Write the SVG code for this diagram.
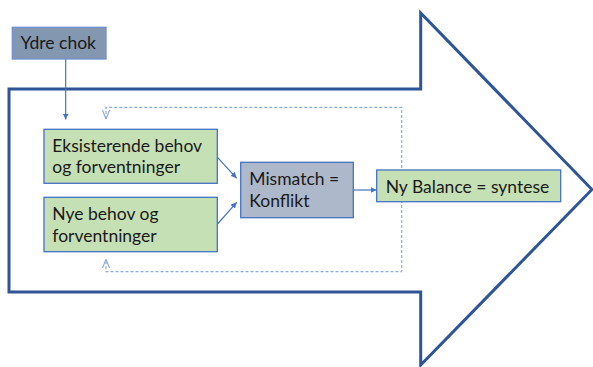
<svg xmlns="http://www.w3.org/2000/svg" width="593" height="367" viewBox="0 0 593 367">
<style>
.t{font-family:Lato,"Open Sans","Liberation Sans",sans-serif;font-size:17.5px;fill:#1a1a1a}
.g{fill:#C5E0B4;stroke:#4472C4;stroke-width:1.3}
.c{stroke:#4472C4;stroke-width:1.2;fill:none}
.d{stroke:#8FAADC;stroke-width:1.2;fill:none;stroke-dasharray:3 2}
</style>
<defs>
<marker id="ah" viewBox="0 0 10 10" refX="10" refY="5" markerWidth="6" markerHeight="6" markerUnits="userSpaceOnUse" orient="auto">
<path d="M0,0 L10,5 L0,10 z" fill="#4472C4"/>
</marker>
<marker id="oh" viewBox="0 0 10 10" refX="10" refY="5" markerWidth="9" markerHeight="9" markerUnits="userSpaceOnUse" orient="auto">
<path d="M0,1 L10,5 L0,9" fill="none" stroke="#8FAADC" stroke-width="1.3"/>
</marker>
</defs>
<g id="bigarrow">
<path d="M9,89 L420.7,89 L420.7,13 L592,189.5 L420.7,365 L420.7,292 L9,292 Z" fill="#fff" stroke="#2F5597" stroke-width="3"/>
</g>
<g id="connectors">
<path class="d" d="M106,119 L106,107.3 L401.7,107.3 L401.7,271.7 L106,271.7 L106,259.5"/>
<line x1="106" y1="108" x2="106" y2="119" stroke="none" marker-end="url(#oh)"/>
<line x1="106" y1="271" x2="106" y2="259.3" stroke="none" marker-end="url(#oh)"/>
<line class="c" x1="65.7" y1="59" x2="65.7" y2="119.5" marker-end="url(#ah)"/>
<line class="c" x1="217.5" y1="157.3" x2="236.7" y2="178.3" marker-end="url(#ah)"/>
<line class="c" x1="217.5" y1="224" x2="236.7" y2="202.3" marker-end="url(#ah)"/>
<line class="c" x1="353.5" y1="190" x2="376.5" y2="190" marker-end="url(#ah)"/>
</g>
<g id="ydre">
<rect x="12.3" y="27.3" width="93.7" height="31.7" fill="#8497B0" stroke="#6F8FD0" stroke-width="1.3"/>
<text class="t" x="20.5" y="49">Ydre chok</text>
</g>
<g id="eksisterende">
<rect class="g" x="44" y="129.3" width="173.3" height="54"/>
<text class="t" x="52.3" y="151.7">Eksisterende behov</text>
<text class="t" x="52.3" y="173">og forventninger</text>
</g>
<g id="nye">
<rect class="g" x="44" y="197.3" width="173.3" height="54.4"/>
<text class="t" x="52.3" y="220">Nye behov og</text>
<text class="t" x="52.3" y="241.7">forventninger</text>
</g>
<g id="mismatch">
<rect x="240.7" y="162.3" width="112.6" height="55.4" fill="#ADB9CA" stroke="#4472C4" stroke-width="1.3"/>
<text class="t" x="249.3" y="185">Mismatch =</text>
<text class="t" x="249.3" y="206.7">Konflikt</text>
</g>
<g id="nybalance">
<rect class="g" x="376.7" y="170" width="184" height="31.7"/>
<text class="t" x="385.7" y="192.7">Ny Balance = syntese</text>
</g>
</svg>
